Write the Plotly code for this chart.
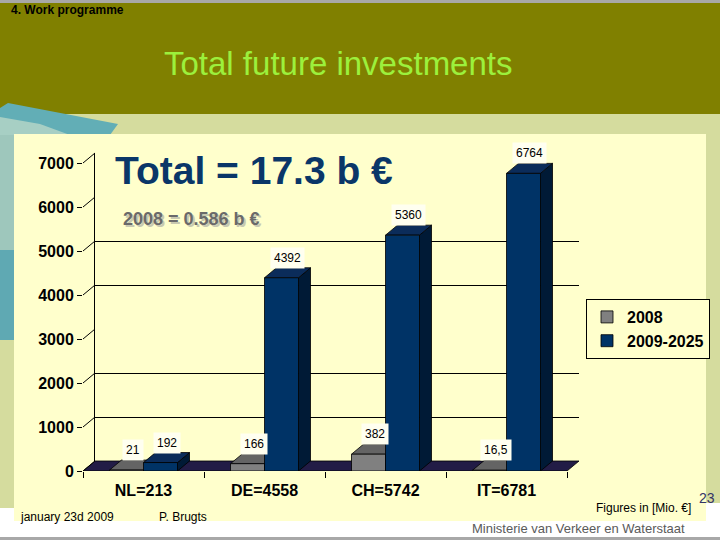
import plotly.graph_objects as go

# ---------------- data ----------------
categories = ["NL=213", "DE=4558", "CH=5742", "IT=6781"]
series_names = ["2008", "2009-2025"]
values_2008 = [21, 166, 382, 16.5]
values_2009_2025 = [192, 4392, 5360, 6764]
y_ticks = [0, 1000, 2000, 3000, 4000, 5000, 6000, 7000]
grid_ticks = [1000, 2000, 4000, 5000]

# ---------------- geometry (pixels of the 720x540 page) ----------------
W, H = 720, 540
def fx(px):
    return px / W
def fy(py):
    return 1 - py / H

CAT_PX = 121          # width of one category on the front plane
X_LEFT_PX = 83        # front plane left edge
Y0_PX = 471           # y = 0 on front plane
PX_PER_UNIT = 0.044   # vertical pixels per data unit
DEPTH_X_PX, DEPTH_Y_PX = 12, 10
BAR_PX = 34

DX = DEPTH_X_PX / CAT_PX
DY = DEPTH_Y_PX / PX_PER_UNIT
BW = BAR_PX / CAT_PX

FRONT_RIGHT_PX, FRONT_TOP_PX = 600, 140
x_front_range = [-0.5, -0.5 + (FRONT_RIGHT_PX - X_LEFT_PX) / CAT_PX]
y_front_range = [0, (Y0_PX - FRONT_TOP_PX) / PX_PER_UNIT]
n = len(categories)
y_max = y_ticks[-1]

FONT = "Liberation Sans, Arial, sans-serif"
GRAY_FRONT, GRAY_TOP, GRAY_SIDE = "#808080", "#646464", "#4a4a4a"
BLUE_FRONT, BLUE_TOP, BLUE_SIDE = "#003366", "#0b2c5a", "#001a36"
FLOOR = "#221c46"

fig = go.Figure()

# ---- back wall subplot (x, y): gridlines + wall edge ----
fig.add_trace(go.Scatter(x=[None], y=[None], xaxis="x", yaxis="y",
                         showlegend=False, hoverinfo="skip"))

# ---- front plane faces (x2, y2) ----
def poly_trace(polys, color):
    xs, ys = [], []
    for p in polys:
        for (a, b) in p:
            xs.append(a); ys.append(b)
        xs.append(p[0][0]); ys.append(p[0][1])
        xs.append(None); ys.append(None)
    return go.Scatter(x=xs, y=ys, xaxis="x2", yaxis="y2", mode="lines",
                      fill="toself", fillcolor=color,
                      line=dict(color="#000000", width=0.8),
                      showlegend=False, hoverinfo="skip")

# floor slab
floor = [[(-0.5, 0), (n - 0.5, 0), (n - 0.5 + DX, DY), (-0.5 + DX, DY)]]
fig.add_trace(poly_trace(floor, FLOOR))

def faces(centers, vals):
    tops, sides = [], []
    for c, v in zip(centers, vals):
        L, R = c - BW / 2, c + BW / 2
        tops.append([(L, v), (R, v), (R + DX, v + DY), (L + DX, v + DY)])
        sides.append([(R, 0), (R, v), (R + DX, v + DY), (R + DX, DY)])
    return tops, sides

centers_2008 = [i - BW / 2 for i in range(n)]
centers_2009 = [i + BW / 2 for i in range(n)]
g_tops, g_sides = faces(centers_2008, values_2008)
b_tops, b_sides = faces(centers_2009, values_2009_2025)
fig.add_trace(poly_trace(g_sides, GRAY_SIDE))
fig.add_trace(poly_trace(g_tops, GRAY_TOP))
fig.add_trace(poly_trace(b_sides, BLUE_SIDE))
fig.add_trace(poly_trace(b_tops, BLUE_TOP))

# slanted connectors from front ticks to back wall
cx, cy = [], []
for t in y_ticks:
    cx += [-0.5, -0.5 + DX, None]
    cy += [t, t + DY, None]
fig.add_trace(go.Scatter(x=cx, y=cy, xaxis="x2", yaxis="y2", mode="lines",
                         line=dict(color="#000000", width=1),
                         showlegend=False, hoverinfo="skip"))

# ---- bars on overlay (x3, y3) ----
fig.add_trace(go.Bar(x=centers_2008, y=values_2008, width=BW, name=series_names[0],
                     xaxis="x3", yaxis="y3",
                     marker=dict(color=GRAY_FRONT, line=dict(color="#000000", width=0.8))))
fig.add_trace(go.Bar(x=centers_2009, y=values_2009_2025, width=BW, name=series_names[1],
                     xaxis="x3", yaxis="y3",
                     marker=dict(color=BLUE_FRONT, line=dict(color="#000000", width=0.8))))

# ---------------- background shapes ----------------
shapes = []
def rect(x0, y0, x1, y1, color):
    shapes.append(dict(type="rect", xref="paper", yref="paper",
                       x0=fx(x0), x1=fx(x1), y0=fy(y1), y1=fy(y0),
                       fillcolor=color, line=dict(width=0), layer="below"))
def poly(points, color):
    path = "M" + " L".join(f"{fx(a)},{fy(b)}" for a, b in points) + " Z"
    shapes.append(dict(type="path", xref="paper", yref="paper", path=path,
                       fillcolor=color, line=dict(width=0), layer="below"))

rect(0, 0, 720, 540, "#ffffff")
rect(0, 0, 720, 3, "#a8a8a8")
rect(0, 3, 720, 114, "#808000")
rect(0, 114, 720, 135, "#d5dc9e")
poly([(0, 108), (8, 103), (118, 124), (110, 135), (0, 135)], "#62aeb6")
poly([(0, 117), (40, 124), (70, 135), (0, 135)], "#a7cfc4")
rect(0, 135, 14, 250, "#9ec7bc")
rect(0, 250, 14, 340, "#5fa9b3")
rect(0, 340, 14, 508, "#d5dc9e")
rect(706, 114, 720, 503, "#d5dc9e")
rect(14, 134, 706, 521, "#ffffcc")
rect(0, 537, 720, 540, "#a8a8a8")

# ---------------- annotations ----------------
ann = []
def text(x, y, s, size, color="#000000", anchor="left", bold=False, shadow=None):
    font = dict(size=size, color=color, family=FONT)
    if shadow:
        font["shadow"] = shadow
    ann.append(dict(xref="paper", yref="paper", x=fx(x), y=fy(y),
                    text=f"<b>{s}</b>" if bold else s, showarrow=False,
                    xanchor=anchor, yanchor="middle", font=font))

text(9, 10, "4. Work programme", 12, bold=True)
text(338, 63, "Total future investments", 33, color="#9cf03c", anchor="center")
text(113, 170, "Total = 17.3 b €", 39, color="#0a3668", bold=True)
text(121, 219, "2008 = 0.586 b €", 18, color="#6a6a6a", bold=True,
     shadow="2px 2px 0px #c9c9b0")
text(18, 517, "january 23d 2009", 12)
text(157, 517, "P. Brugts", 12)
text(693, 508, "Figures in [Mio. €]", 12, anchor="right")
text(697, 498, "23", 14, color="#333366")
text(578, 528, "Ministerie van Verkeer en Waterstaat", 13, color="#5a5a5a", anchor="center")

def fmt(v):
    return f"{v:g}".replace(".", ",")

for centers, vals in ((centers_2008, values_2008), (centers_2009, values_2009_2025)):
    for c, v in zip(centers, vals):
        ann.append(dict(xref="x2", yref="y2", x=c + DX / 2, y=v, yshift=20,
                        text=fmt(v), showarrow=False, xanchor="center", yanchor="middle",
                        bgcolor="#fffff0", borderpad=3,
                        font=dict(size=12, color="#000000", family=FONT)))

# ---------------- layout ----------------
fig.update_layout(
    template="none",
    width=W, height=H, autosize=False,
    margin=dict(l=0, r=0, t=0, b=0, pad=0),
    paper_bgcolor="#ffffff", plot_bgcolor="rgba(0,0,0,0)",
    barmode="overlay", showlegend=True,
    shapes=shapes, annotations=ann,
    font=dict(family=FONT, color="#000000"),
    # back wall
    xaxis=dict(domain=[fx(95), fx(579)], range=[-0.5, n - 0.5], visible=False,
               anchor="y", fixedrange=True, automargin=False),
    yaxis=dict(domain=[fy(461), fy(153)], range=[0, y_max], anchor="x",
               tickvals=grid_ticks, showticklabels=False, ticks="",
               showgrid=True, gridcolor="#000000", gridwidth=1,
               showline=True, linecolor="#000000", linewidth=1, zeroline=False,
               fixedrange=True, automargin=False),
    # front plane
    xaxis2=dict(domain=[fx(X_LEFT_PX), fx(FRONT_RIGHT_PX)], range=x_front_range,
                anchor="y2", tickvals=list(range(n)), ticktext=[f"<b>{c}</b>" for c in categories],
                ticks="", showgrid=False, zeroline=False, showline=False,
                ticklabelstandoff=8, automargin=False,
                tickfont=dict(size=16, color="#000000", family=FONT),
                minor=dict(tickvals=[i - 0.5 for i in range(n + 1)], ticks="outside",
                           ticklen=6, tickcolor="#000000", tickwidth=1, showgrid=False),
                fixedrange=True),
    yaxis2=dict(domain=[fy(Y0_PX), fy(FRONT_TOP_PX)], range=y_front_range,
                anchor="x2", tickvals=y_ticks, ticktext=[f"<b>{t}</b>" for t in y_ticks],
                ticks="outside", ticklen=5, tickcolor="#000000", tickwidth=1,
                showgrid=False, zeroline=False, showline=False, automargin=False,
                tickfont=dict(size=16, color="#000000", family=FONT),
                fixedrange=True),
    xaxis3=dict(overlaying="x2", range=x_front_range, visible=False, anchor="y3",
                fixedrange=True, automargin=False),
    yaxis3=dict(overlaying="y2", range=y_front_range, visible=False, anchor="x3",
                fixedrange=True, automargin=False),
    legend=dict(x=fx(586), y=fy(299), xanchor="left", yanchor="top",
                bgcolor="#ffffcc", bordercolor="#000000", borderwidth=1,
                font=dict(size=16, color="#000000", family=FONT, weight="bold"),
                itemwidth=30, tracegroupgap=0),
)

fig.write_html("out.html", config={"displayModeBar": False},
               post_script="document.body.style.margin='0px';document.body.style.overflow='hidden';")
